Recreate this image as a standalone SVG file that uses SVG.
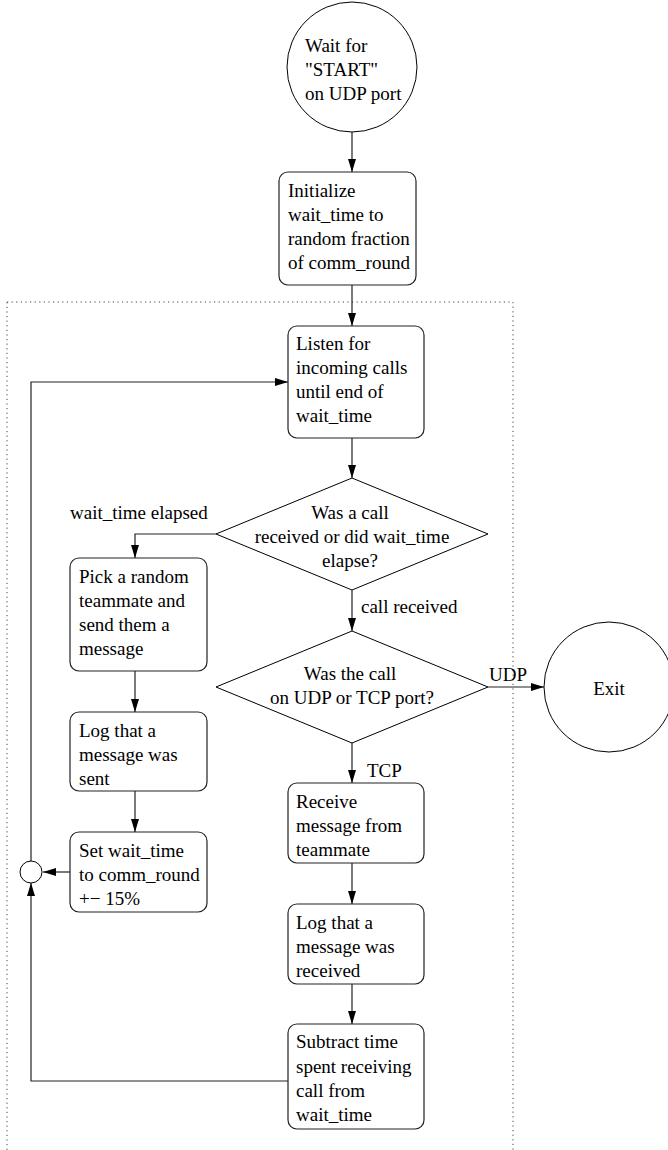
<svg xmlns="http://www.w3.org/2000/svg" width="668" height="1150" viewBox="0 0 668 1150">
<defs>
<style>
.t{font-family:"Liberation Serif","Times New Roman",serif;font-size:19px;fill:#000}
.c{text-anchor:middle}
.box{fill:#fff;stroke:#222;stroke-width:1.2}
.sh{fill:none;stroke:#000;stroke-width:1}
.ln{fill:none;stroke:#222;stroke-width:1.2}
.dot{fill:none;stroke:#444;stroke-width:1;stroke-dasharray:1.2 3.4}
</style>
<marker id="ah" viewBox="0 0 13 8" refX="13" refY="4" markerWidth="13" markerHeight="8" markerUnits="userSpaceOnUse" orient="auto"><path d="M0,0 L13,4 L0,8 z" fill="#000"/></marker>
</defs>
<rect width="668" height="1150" fill="#fff"/>
<rect class="dot" x="7" y="302" width="506" height="900"/>
<g id="connectors">
<line class="ln" x1="352" y1="132" x2="352" y2="172" marker-end="url(#ah)"/>
<line class="ln" x1="352" y1="285" x2="352" y2="326" marker-end="url(#ah)"/>
<line class="ln" x1="352" y1="438" x2="352" y2="478" marker-end="url(#ah)"/>
<line class="ln" x1="352" y1="590" x2="352" y2="631" marker-end="url(#ah)"/>
<polyline class="ln" points="216,534 135,534 135,558" marker-end="url(#ah)"/>
<line class="ln" x1="135" y1="671" x2="135" y2="712" marker-end="url(#ah)"/>
<line class="ln" x1="135" y1="791" x2="135" y2="832" marker-end="url(#ah)"/>
<line class="ln" x1="352" y1="743" x2="352" y2="783" marker-end="url(#ah)"/>
<line class="ln" x1="488" y1="687" x2="544" y2="687" marker-end="url(#ah)"/>
<line class="ln" x1="352" y1="863" x2="352" y2="904" marker-end="url(#ah)"/>
<line class="ln" x1="352" y1="984" x2="352" y2="1024" marker-end="url(#ah)"/>
<line class="ln" x1="71" y1="872" x2="43" y2="872" marker-end="url(#ah)"/>
<polyline class="ln" points="288,1081 31,1081 31,883" marker-end="url(#ah)"/>
<polyline class="ln" points="31,861 31,382 288,382" marker-end="url(#ah)"/>
<text class="t" x="70" y="519">wait_time elapsed</text>
<text class="t" x="361" y="613">call received</text>
<text class="t" x="489" y="681">UDP</text>
<text class="t" x="367" y="777">TCP</text>
</g>
<g id="start">
<circle class="sh" cx="352" cy="67" r="65" fill="#fff"/>
<text class="t" x="305" y="52">Wait for</text>
<text class="t" x="305" y="76">"START"</text>
<text class="t" x="305" y="100">on UDP port</text>
</g>
<g id="init">
<rect class="box" x="279" y="172" width="137" height="113" rx="9"/>
<text class="t" x="288" y="197">Initialize</text>
<text class="t" x="288" y="221">wait_time to</text>
<text class="t" x="288" y="245">random fraction</text>
<text class="t" x="288" y="269">of comm_round</text>
</g>
<g id="listen">
<rect class="box" x="288" y="326" width="136" height="112" rx="9"/>
<text class="t" x="296" y="350">Listen for</text>
<text class="t" x="296" y="374">incoming calls</text>
<text class="t" x="296" y="398">until end of</text>
<text class="t" x="296" y="422">wait_time</text>
</g>
<g id="decision1">
<polygon class="sh" points="352,478 488,534 352,590 216,534" fill="#fff"/>
<text class="t c" x="350" y="519">Was a call</text>
<text class="t c" x="352" y="543">received or did wait_time</text>
<text class="t c" x="350" y="567">elapse?</text>
</g>
<g id="pick">
<rect class="box" x="70" y="558" width="137" height="113" rx="9"/>
<text class="t" x="79" y="583">Pick a random</text>
<text class="t" x="79" y="607">teammate and</text>
<text class="t" x="79" y="631">send them a</text>
<text class="t" x="79" y="655">message</text>
</g>
<g id="decision2">
<polygon class="sh" points="352,631 488,687 352,743 216,687" fill="#fff"/>
<text class="t c" x="350" y="680">Was the call</text>
<text class="t c" x="352" y="704">on UDP or TCP port?</text>
</g>
<g id="exit">
<circle class="sh" cx="609" cy="687" r="65" fill="#fff"/>
<text class="t c" x="609" y="695">Exit</text>
</g>
<g id="logsent">
<rect class="box" x="70" y="712" width="137" height="79" rx="9"/>
<text class="t" x="79" y="737">Log that a</text>
<text class="t" x="79" y="761">message was</text>
<text class="t" x="79" y="785">sent</text>
</g>
<g id="setwait">
<rect class="box" x="70" y="832" width="137" height="80" rx="9"/>
<text class="t" x="79" y="857">Set wait_time</text>
<text class="t" x="79" y="881">to comm_round</text>
<text class="t" x="79" y="905">+− 15%</text>
</g>
<g id="join">
<circle class="sh" cx="31" cy="872" r="11" fill="#fff"/>
</g>
<g id="receive">
<rect class="box" x="288" y="783" width="136" height="80" rx="9"/>
<text class="t" x="296" y="808">Receive</text>
<text class="t" x="296" y="832">message from</text>
<text class="t" x="296" y="856">teammate</text>
</g>
<g id="logrecv">
<rect class="box" x="288" y="904" width="136" height="80" rx="9"/>
<text class="t" x="296" y="929">Log that a</text>
<text class="t" x="296" y="953">message was</text>
<text class="t" x="296" y="977">received</text>
</g>
<g id="subtract">
<rect class="box" x="288" y="1024" width="136" height="105" rx="9"/>
<text class="t" x="296" y="1048">Subtract time</text>
<text class="t" x="296" y="1073">spent receiving</text>
<text class="t" x="296" y="1097">call from</text>
<text class="t" x="296" y="1121">wait_time</text>
</g>
</svg>
